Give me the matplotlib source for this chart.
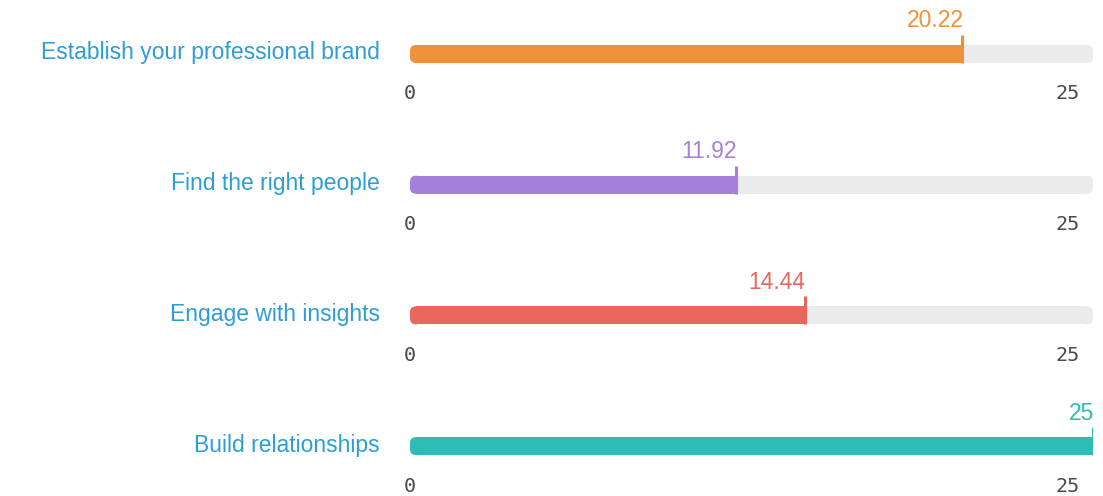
import matplotlib.pyplot as plt
from matplotlib.patches import FancyBboxPatch, Rectangle

categories = ["Establish your professional brand", "Find the right people",
              "Engage with insights", "Build relationships"]
values = [20.22, 11.92, 14.44, 25]
value_labels = ["20.22", "11.92", "14.44", "25"]
max_value = 25
bar_colors = ["#F0913A", "#A57FD9", "#E9665D", "#2EBDB4"]

label_color = "#2C9ED5"
track_color = "#EBEBEB"
tick_color = "#4A4A4A"

fig = plt.figure(figsize=(11.03, 4.96), dpi=100)
fig.patch.set_facecolor("white")

# axes spans the bar track horizontally and the whole figure vertically
ax = fig.add_axes([410 / 1103, 0, 683 / 1103, 1])
step = 130.7
ax.set_xlim(0, max_value)
ax.set_ylim((496 - 54) / step, -54 / step)
ax.axis("off")

px_x = max_value / 683          # data units per pixel, x
px_y = 1 / step                 # data units per pixel, y
aspect = px_y / px_x
bar_h = 18 * px_y
r = 6


def cap(x0, y, color, z):
    # small rounded pill used for the rounded bar ends
    return FancyBboxPatch((x0, y - bar_h / 2), 2 * r * px_x, bar_h,
                          boxstyle=f"round,pad=0,rounding_size={r * px_x}",
                          mutation_aspect=aspect, fc=color, ec="none", zorder=z)


for i, (cat, v, lab, c) in enumerate(zip(categories, values, value_labels, bar_colors)):
    # grey track with rounded ends
    ax.add_patch(cap(0, i, track_color, 1))
    ax.add_patch(cap(max_value - 2 * r * px_x, i, track_color, 1))
    ax.add_patch(Rectangle((r * px_x, i - bar_h / 2), max_value - 2 * r * px_x, bar_h,
                           fc=track_color, ec="none", zorder=1))
    # coloured value bar, rounded left end
    ax.add_patch(cap(0, i, c, 2))
    ax.add_patch(Rectangle((r * px_x, i - bar_h / 2), v - r * px_x, bar_h,
                           fc=c, ec="none", zorder=2))
    # small marker at the end of the bar
    ax.plot([v, v], [i + bar_h / 2, i - 19 * px_y], color=c, lw=2.2,
            solid_capstyle="butt", zorder=3)
    ax.annotate(lab, (v, i), xytext=(1, 33), textcoords="offset pixels",
                ha="right", va="center", fontsize=16.5, color=c,
                family="Liberation Sans")
    ax.annotate(cat, (0, i), xytext=(-30, 1), textcoords="offset pixels",
                ha="right", va="center", fontsize=16.5, color=label_color,
                family="Liberation Sans")
    ax.annotate("0", (0, i), xytext=(0, -40), textcoords="offset pixels",
                ha="center", va="center", fontsize=14.5, color=tick_color,
                family="DejaVu Sans Mono")
    ax.annotate(str(max_value), (max_value, i), xytext=(-25, -40),
                textcoords="offset pixels", ha="center", va="center",
                fontsize=14.5, color=tick_color, family="DejaVu Sans Mono")

plt.savefig("out.png", dpi=100)
